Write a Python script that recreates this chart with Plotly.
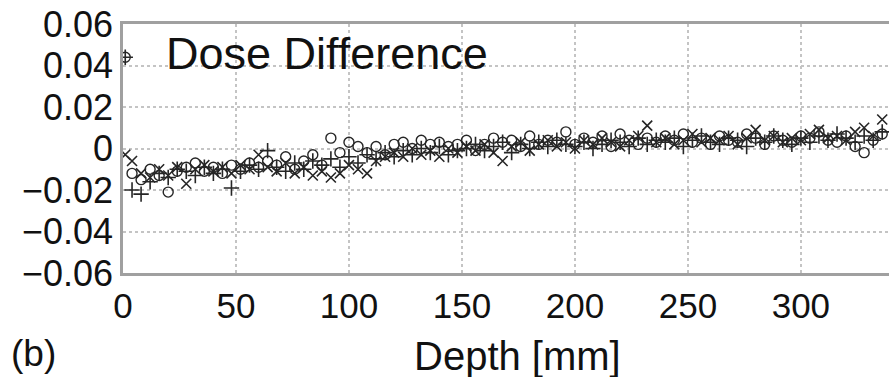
import plotly.graph_objects as go

depth = [1, 4, 8, 12, 16, 20, 24, 28, 32, 36, 40, 44, 48, 52, 56, 60, 64, 68, 72, 76,
         80, 84, 88, 92, 96, 100, 104, 108, 112, 116, 120, 124, 128, 132, 136, 140,
         144, 148, 152, 156, 160, 164, 168, 172, 176, 180, 184, 188, 192, 196, 200,
         204, 208, 212, 216, 220, 224, 228, 232, 236, 240, 244, 248, 252, 256, 260,
         264, 268, 272, 276, 280, 284, 288, 292, 296, 300, 304, 308, 312, 316, 320,
         324, 328, 332, 336]

circles = [0.044, -0.012, -0.015, -0.010, -0.013, -0.021, -0.011, -0.009, -0.007, -0.011,
           -0.009, -0.012, -0.008, -0.010, -0.007, -0.009, -0.006, -0.008, -0.004, -0.010,
           -0.006, -0.003, -0.008, 0.005, -0.002, 0.003, 0.001, -0.002, 0.001, -0.003,
           0.002, 0.003, 0.000, 0.004, 0.002, 0.003, 0.001, 0.002, 0.004, -0.001,
           0.002, 0.005, 0.003, 0.004, 0.001, 0.006, 0.002, 0.004, 0.003, 0.008,
           0.002, 0.005, 0.003, 0.006, 0.001, 0.007, 0.004, 0.002, 0.005, 0.003,
           0.006, 0.004, 0.007, 0.003, 0.005, 0.002, 0.006, 0.004, 0.003, 0.007,
           0.005, 0.002, 0.006, 0.004, 0.003, 0.006, 0.005, 0.008, 0.004, 0.003,
           0.006, 0.001, -0.002, 0.004, 0.007]

crosses = [-0.003, -0.006, -0.012, -0.014, -0.010, -0.013, -0.009, -0.017, -0.010, -0.008,
           -0.011, -0.009, -0.012, -0.008, -0.010, -0.003, -0.009, -0.011, -0.007, -0.012,
           -0.009, -0.013, -0.011, -0.014, -0.012, -0.008, -0.010, -0.012, -0.006, -0.004,
           -0.002, -0.004, 0.000, -0.003, -0.001, -0.004, 0.000, -0.002, 0.001, -0.001,
           0.002, -0.002, -0.006, 0.001, 0.003, -0.001, 0.002, 0.004, 0.001, 0.003,
           0.000, 0.004, 0.002, 0.005, 0.003, 0.001, 0.004, 0.006, 0.011, 0.003,
           0.005, 0.002, 0.004, 0.007, 0.003, 0.005, 0.004, 0.006, 0.002, 0.005,
           0.009, 0.004, 0.006, 0.003, 0.005, 0.004, 0.007, 0.009, 0.005, 0.006,
           0.004, 0.008, 0.010, 0.006, 0.014]

pluses = [0.044, -0.020, -0.022, -0.016, -0.012, -0.014, -0.010, -0.011, -0.013, -0.009,
          -0.012, -0.010, -0.019, -0.011, -0.008, -0.010, -0.001, -0.009, -0.011, -0.007,
          -0.010, -0.006, -0.008, -0.005, -0.009, -0.004, -0.007, -0.003, -0.005, -0.002,
          -0.004, -0.001, -0.003, 0.000, -0.002, 0.001, -0.003, -0.001, 0.000, 0.002,
          -0.001, 0.001, 0.003, -0.002, 0.002, 0.000, 0.003, 0.001, 0.004, 0.002,
          0.001, 0.003, 0.000, 0.002, 0.004, 0.003, 0.001, 0.005, 0.002, 0.004,
          0.003, 0.005, 0.001, 0.004, 0.006, 0.003, 0.002, 0.005, 0.004, 0.001,
          0.005, 0.003, 0.006, 0.004, 0.002, 0.005, 0.003, 0.006, 0.004, 0.007,
          0.005, 0.003, 0.006, 0.004, 0.008]

x_ticks = [0, 50, 100, 150, 200, 250, 300]
y_ticks = [-0.06, -0.04, -0.02, 0, 0.02, 0.04, 0.06]
y_tick_text = ["\u22120.06", "\u22120.04", "\u22120.02", "0", "0.02", "0.04", "0.06"]

FONT = "Liberation Sans, Arial, sans-serif"
MK = "#262626"

fig = go.Figure()
fig.add_trace(go.Scatter(x=depth, y=circles, mode="markers",
                         marker=dict(symbol="circle-open", size=10, color=MK,
                                     line=dict(width=1.4, color=MK))))
fig.add_trace(go.Scatter(x=depth, y=crosses, mode="markers",
                         marker=dict(symbol="x-thin-open", size=10, color=MK,
                                     line=dict(width=1.6, color=MK))))
fig.add_trace(go.Scatter(x=depth, y=pluses, mode="markers",
                         marker=dict(symbol="cross-thin-open", size=11, color=MK,
                                     line=dict(width=1.6, color=MK))))

fig.update_layout(
    width=889, height=377,
    margin=dict(l=123, r=0, t=24, b=104),
    paper_bgcolor="white", plot_bgcolor="white",
    showlegend=False,
    font=dict(family=FONT, color="#111"),
    xaxis=dict(range=[0, 339], tickvals=x_ticks, ticks="",
               tickfont=dict(size=35, family=FONT, color="#111"),
               showgrid=True, gridcolor="#c4c4c4", griddash="dot", gridwidth=1.5,
               showline=True, linecolor="#a0a0a0", linewidth=2.5, mirror=True,
               zeroline=False),
    yaxis=dict(range=[-0.06, 0.06], tickvals=y_ticks, ticktext=y_tick_text, ticks="",
               tickfont=dict(size=36, family=FONT, color="#111"),
               showgrid=True, gridcolor="#c4c4c4", griddash="dot", gridwidth=1.5,
               showline=True, linecolor="#a0a0a0", linewidth=2.5, mirror=False,
               zeroline=False),
    annotations=[
        dict(x=18, y=0.046, xref="x", yref="y", text="Dose Difference", showarrow=False,
             xanchor="left", yanchor="middle", font=dict(size=45, family=FONT, color="#111")),
        dict(x=(517 - 123) / 766, y=(273 - 356) / 249, xref="paper", yref="paper",
             text="Depth [mm]", showarrow=False, xanchor="center", yanchor="middle",
             font=dict(size=40, family=FONT, color="#111")),
        dict(x=(33 - 123) / 766, y=(273 - 353) / 249, xref="paper", yref="paper",
             text="(b)", showarrow=False, xanchor="center", yanchor="middle",
             font=dict(size=37, family=FONT, color="#111")),
    ],
)

fig.write_html("out.html")
